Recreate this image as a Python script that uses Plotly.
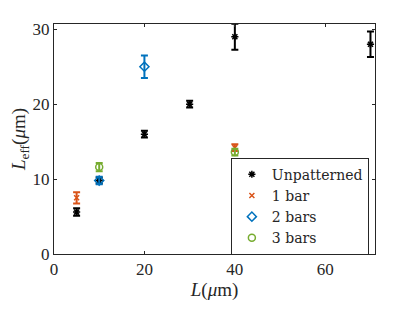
import plotly.graph_objects as go

# Data
unp_x = [5, 10, 20, 30, 40, 70]
unp_y = [5.6, 9.8, 16.0, 20.0, 29.0, 28.0]
unp_e = [0.5, 0.4, 0.45, 0.45, 1.75, 1.7]

bar1_x = [5, 40]
bar1_y = [7.5, 14.2]
bar1_e = [0.75, 0.45]

bar2_x = [10, 20]
bar2_y = [9.8, 25.0]
bar2_e = [0.5, 1.5]

bar3_x = [10, 40]
bar3_y = [11.6, 13.6]
bar3_e = [0.55, 0.45]

x_ticks = [0, 20, 40, 60]
y_ticks = [0, 10, 20, 30]

series = [
    ("Unpatterned", unp_x, unp_y, unp_e, "black", "asterisk-open", 6),
    ("1 bar", bar1_x, bar1_y, bar1_e, "#D95319", "x-thin-open", 5),
    ("2 bars", bar2_x, bar2_y, bar2_e, "#0072BD", "diamond-open", 7),
    ("3 bars", bar3_x, bar3_y, bar3_e, "#77AC30", "circle-open", 7),
]

fig = go.Figure()
for name, xs, ys, es, col, sym, sz in series:
    fig.add_trace(go.Scatter(
        x=xs, y=ys, mode="markers", name=name,
        marker=dict(symbol=sym, size=sz, color=col, line=dict(color=col, width=1.5)),
        error_y=dict(type="data", array=es, visible=True, color=col, thickness=2, width=3.5),
    ))

font_family = "Liberation Serif, DejaVu Serif, serif"
axis_common = dict(
    showline=True, linecolor="#262626", linewidth=1, mirror="ticks",
    ticks="inside", ticklen=3, tickcolor="#262626",
    showgrid=False, zeroline=False, automargin=False,
    tickfont=dict(family=font_family, size=17, color="#262626"),
)

# page body has an 8px default margin; figure sized to fit the window
fig.update_layout(
    width=407, height=304,
    margin=dict(l=46, r=40, t=16, b=58),
    paper_bgcolor="white", plot_bgcolor="white",
    showlegend=True,
    legend=dict(
        x=0.551, y=0.419, xanchor="left", yanchor="top",
        bordercolor="#262626", borderwidth=1, bgcolor="white",
        font=dict(family="DejaVu Serif, serif", size=14, color="#262626"),
        tracegroupgap=0, itemwidth=30,
    ),
    xaxis=dict(range=[0, 71], tickvals=x_ticks,
               title=dict(text="<i>L</i>(<i>μ</i>m)", font=dict(family=font_family, size=19, color="#262626"), standoff=4),
               **axis_common),
    yaxis=dict(range=[0, 30.7], tickvals=y_ticks,
               title=dict(text="<i>L</i><sub>eff</sub>(<i>μ</i>m)", font=dict(family=font_family, size=19, color="#262626"), standoff=6),
               **axis_common),
)

fig.write_html("out.html")
